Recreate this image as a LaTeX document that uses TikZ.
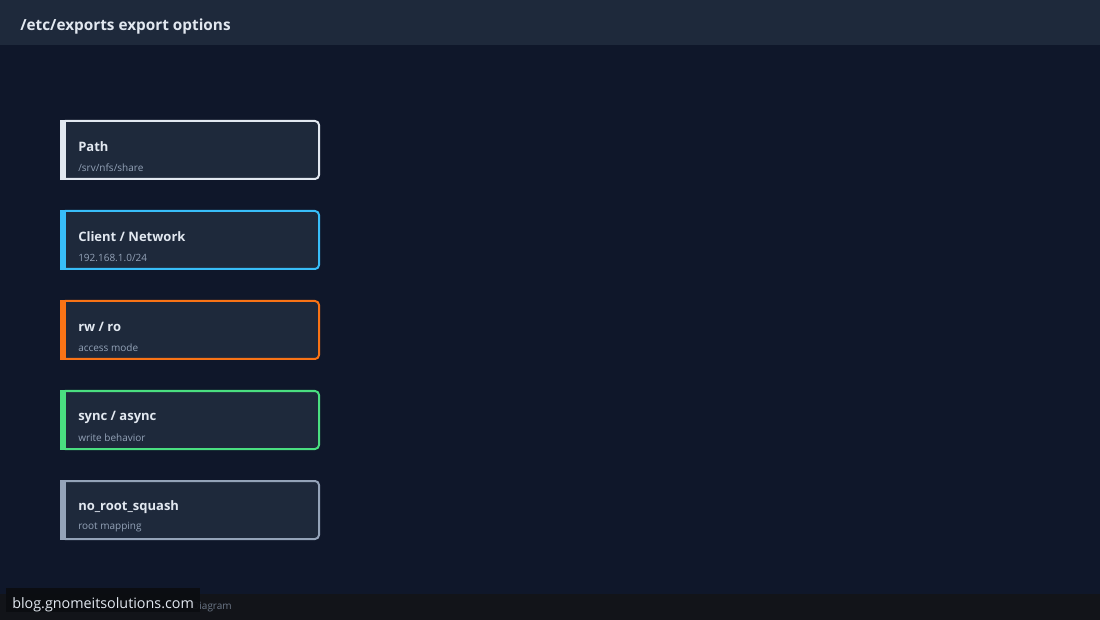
\documentclass[tikz,border=0pt]{standalone}
\usepackage{fontspec}
\setmainfont{Open Sans}
\usepackage{xcolor}
\definecolor{pagebg}{HTML}{0F172A}
\definecolor{headbg}{HTML}{1E293B}
\definecolor{cardbg}{HTML}{1E293B}
\definecolor{footbg}{HTML}{121419}
\definecolor{markbg}{HTML}{0B0D11}
\definecolor{subgrey}{HTML}{94A3B8}
\definecolor{titlewhite}{HTML}{E2E8F0}
\definecolor{pathcol}{HTML}{E2E8F0}
\definecolor{clientcol}{HTML}{38BDF8}
\definecolor{modecol}{HTML}{F97316}
\definecolor{synccol}{HTML}{4ADE80}
\definecolor{rootcol}{HTML}{94A3B8}
\tikzset{
  optcard/.style={draw=#1, fill=cardbg, line width=1.5pt, rounded corners=3pt,
    minimum width=193.5pt, minimum height=43.5pt, inner sep=0pt},
  opttitle/.style={anchor=west, inner sep=0pt, text=titlewhite, font=\bfseries\fontsize{9.75}{12}\selectfont},
  optsub/.style={anchor=west, inner sep=0pt, text=subgrey, font=\fontsize{7.5}{9}\selectfont}
}
\begin{document}
\begin{tikzpicture}[x=0.75pt,y=0.75pt,yscale=-1,xscale=1]
        % background and header band
        \fill[pagebg] (0,0) rectangle (1100,620);
        \useasboundingbox (0,0) rectangle (1100,620);
        \fill[headbg] (0,0) rectangle (1100,45);
        \draw (20,26.5) node [anchor=west][inner sep=0pt][text=titlewhite, font=\bfseries\fontsize{11.5}{13}\selectfont] (title) {/etc/exports export options};
        
        % option cards
        \foreach \i/\y/\col/\name/\sub in {1/150/pathcol/Path/{/srv/nfs/share},
                                           2/240/clientcol/{Client / Network}/{192.168.1.0/24},
                                           3/330/modecol/{rw / ro}/access mode,
                                           4/420/synccol/{sync / async}/write behavior,
                                           5/510/rootcol/no\_root\_squash/root mapping}{
          \node [optcard=\col] (box\i) at (190,\y) {};
          \fill [\col] (60,\y-30) rectangle (66,\y+30);
          \draw (78,\y-3) node [opttitle] (name\i) {\name};
          \draw (78,\y+17.5) node [optsub] (sub\i) {\sub};
        }
        
        % footer band
        \fill[footbg] (0,594) rectangle (1100,620);
        \draw (232,607) node [anchor=east][inner sep=0pt][text=subgrey!70!footbg, font=\fontsize{7.5}{9}\selectfont] (foot) {Diagram};
        % watermark
        \fill[markbg, opacity=0.92] (6,588) rectangle (200,612);
        \draw (12,605) node [anchor=west][inner sep=0pt][text=titlewhite, font=\fontsize{10.75}{12}\selectfont] (mark) {blog.gnomeitsolutions.com};
        
\end{tikzpicture}
\end{document}
